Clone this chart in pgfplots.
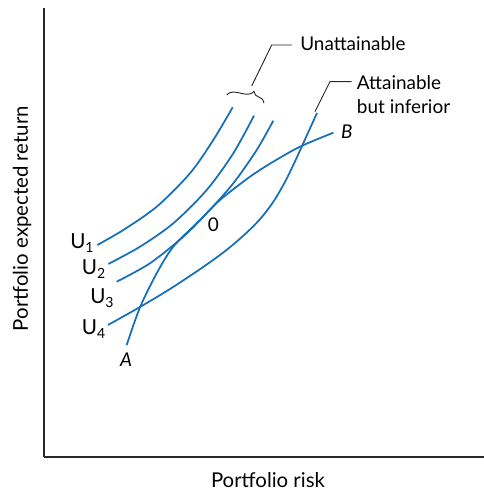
\documentclass[border=0pt]{standalone}
\usepackage{fontspec}
\setmainfont{Lato}
\usepackage{pgfplots}
\pgfplotsset{compat=1.18}
\usetikzlibrary{decorations.pathreplacing}
\definecolor{cblue}{RGB}{20,110,185}
\definecolor{axgray}{RGB}{40,40,40}
\newcommand{\Ulab}[1]{{\fontsize{15.5}{18}\selectfont U\raisebox{-3pt}{\fontsize{10.5}{11}\selectfont #1}}}
\begin{document}
\fontsize{14.2}{17}\selectfont
\begin{tikzpicture}
\begin{axis}[
  scale only axis,
  width=330pt, height=336.75pt,
  xmin=0, xmax=440, ymin=0, ymax=449,
  axis x line=bottom, axis y line=left,
  axis line style={-, axgray, line width=0.9pt},
  xtick=\empty, ytick=\empty,
  clip=false,
  curve/.style={cblue, line width=1.3pt, smooth, mark=none},
]
\coordinate (sw) at (rel axis cs:0,0);
\coordinate (ne) at (rel axis cs:1,1);
% U1
\addplot[curve] coordinates {(53.3,212) (79.3,227) (112.7,250.3) (146,283.7) (169.3,317) (188.7,349.7)};
% U2
\addplot[curve] coordinates {(64.3,193) (96,210.3) (129.3,233.7) (162.7,267) (189.3,303.7) (210,341.3)};
% U3
\addplot[curve] coordinates {(72.7,175.3) (106,193.7) (139.3,220.3) (162.7,243.7) (189.3,273.7) (212.7,307) (229.3,336.3)};
% U4
\addplot[curve] coordinates {(64,132) (96,150) (126,168) (156,187.8) (181,205.8) (201,222.8) (216,237.8) (229,254.7) (241,275.1) (251,295.6) (261,317.6) (273,344)};
% AB frontier
\addplot[curve] coordinates {(82.7,112) (96,149.7) (112.7,183.7) (129.3,210.3) (156,237) (176,257) (206,280.3) (229.3,295.3) (256,310.3) (289.3,324.3)};
% annotations
\draw[axgray, line width=0.7pt, decorate, decoration={brace, amplitude=7pt, aspect=0.68}] (axis cs:182.7,362) -- (axis cs:220,354);
\draw[axgray, line width=0.7pt] (axis cs:207.7,371) -- (axis cs:227.7,412) -- (axis cs:248,412);
\draw[axgray, line width=0.7pt] (axis cs:271,345.3) -- (axis cs:286,375.3) -- (axis cs:307.7,375.3);
\node[anchor=base west, inner sep=0pt] at (axis cs:256,406.3) {Unattainable};
\node[anchor=base west, inner sep=0pt] at (axis cs:312.7,367.7) {Attainable};
\node[anchor=base west, inner sep=0pt] at (axis cs:312.7,343.7) {but inferior};
\node[anchor=base west, inner sep=0pt] at (axis cs:26,208) {\Ulab{1}};
\node[anchor=base west, inner sep=0pt] at (axis cs:37.7,182.5) {\Ulab{2}};
\node[anchor=base west, inner sep=0pt] at (axis cs:46,153.7) {\Ulab{3}};
\node[anchor=base west, inner sep=0pt] at (axis cs:37.7,122) {\Ulab{4}};
\node[inner sep=0pt] at (axis cs:82,97) {\itshape A};
\node[inner sep=0pt] at (axis cs:302.7,325.3) {\itshape B};
\node[inner sep=0pt] at (axis cs:169.3,232) {0};
\node[rotate=90, inner sep=0pt] at (axis cs:-22,238.5) {\fontsize{15.3}{18}\selectfont Portfolio expected return};
\node[inner sep=0pt] at (axis cs:224,-23) {\fontsize{15.3}{18}\selectfont Portfolio risk};
\end{axis}
\pgfresetboundingbox
\path ([xshift=-33pt, yshift=-26.25pt]sw) rectangle ([yshift=6pt]ne);
\end{tikzpicture}
\end{document}
